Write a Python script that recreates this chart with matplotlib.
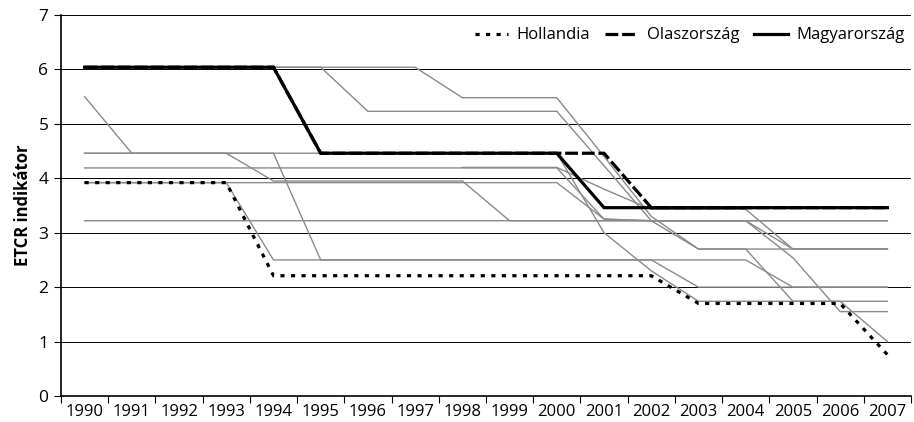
import numpy as np
import matplotlib
matplotlib.use("Agg")
import matplotlib.pyplot as plt

plt.rcParams['font.family'] = ['Open Sans', 'DejaVu Sans']

# adatok
years = [str(y) for y in range(1990, 2008)]

hollandia = [3.92, 3.92, 3.92, 3.92, 2.21, 2.21, 2.21, 2.21, 2.21, 2.21,
             2.21, 2.21, 2.21, 1.70, 1.70, 1.70, 1.70, 0.76]
olasz = [6.04] * 5 + [4.46] * 7 + [3.46] * 6
magyar = [6.04] * 5 + [4.46] * 6 + [3.46] * 7

nan = np.nan
# a többi ország (szürke vonalak)
g_a = [6.04] * 6 + [5.23] * 5 + [4.23, 3.22, 3.22, 3.22, 3.22, 3.22, 3.22]
g_b = [6.04] * 8 + [5.48] * 3 + [4.40, 3.30, 2.70, 2.70, 2.70, 2.70, 2.70]
g_c = [5.50, 4.46, 4.46, 4.46] + [3.95] * 5 + [3.22] * 4 + [2.70, 2.70, 1.74, 1.74, 1.74]
g_d = [4.46] * 5 + [2.50] * 10 + [2.00] * 3
g_e = [3.92] * 4 + [2.50] * 9 + [2.00] * 5
g_f = [4.19] * 11 + [3.25] + [3.22] * 6
g_g = [4.46] * 11 + [3.00, 2.30, 1.74, 1.74, 1.74, 1.74, 1.00]
g_h = [3.92] * 11 + [3.25, 3.22, 3.22, 3.22, 2.54, 1.55, 1.55]
g_i = [3.22] * 15 + [2.70, 2.70, 2.70]
g_j = [nan] * 8 + [4.20] * 3 + [3.80, 3.43, 3.43, 3.43, 2.70, 2.70, 2.70]
others = [g_a, g_b, g_c, g_d, g_e, g_f, g_g, g_h, g_i, g_j]

x = np.arange(len(years))

fig = plt.figure(figsize=(9.14, 4.22), dpi=100)
ax = fig.add_axes([0.0667, 0.0616, 0.93, 0.9029])

for s in others:
    ax.plot(x, s, color='#8a8a8a', lw=1.0, zorder=2)

ax.plot(x, magyar, color='black', lw=2.3, solid_joinstyle='miter', zorder=3,
        label='Magyarország')
ax.plot(x, olasz, color='black', lw=2.3, dashes=(4, 1.2), zorder=4,
        label='Olaszország')
ax.plot(x, hollandia, color='black', lw=2.3, dashes=(1.3, 2.0), zorder=5,
        label='Hollandia')

ax.set_xlim(-0.5, len(years) - 0.5)
ax.set_ylim(0, 7)
ax.set_yticks(range(0, 8))
ax.set_xticks(x)
ax.set_xticklabels(years)
ax.set_xticks(np.arange(-0.5, len(years)), minor=True)
ax.tick_params(axis='x', which='major', length=0, pad=6, labelsize=12)
ax.tick_params(axis='x', which='minor', length=5, width=0.8, direction='out')
ax.tick_params(axis='y', length=5, width=0.8, direction='out', labelsize=12.5, pad=4)

for v in range(1, 8):
    ax.axhline(v, color='black', lw=0.7, zorder=1)

for side in ['top', 'right']:
    ax.spines[side].set_visible(False)
ax.spines['left'].set_linewidth(1.2)
ax.spines['bottom'].set_linewidth(1.2)

ax.set_ylabel('ETCR indikátor', fontsize=12, fontweight='bold', labelpad=5)

h, l = ax.get_legend_handles_labels()
ax.legend(h[::-1], l[::-1], loc='upper right', bbox_to_anchor=(1.0, 0.985),
          ncol=3, frameon=False, fontsize=12, handlelength=2.0,
          handletextpad=0.5, columnspacing=0.9, borderaxespad=0)

fig.savefig('out.png', dpi=100)
